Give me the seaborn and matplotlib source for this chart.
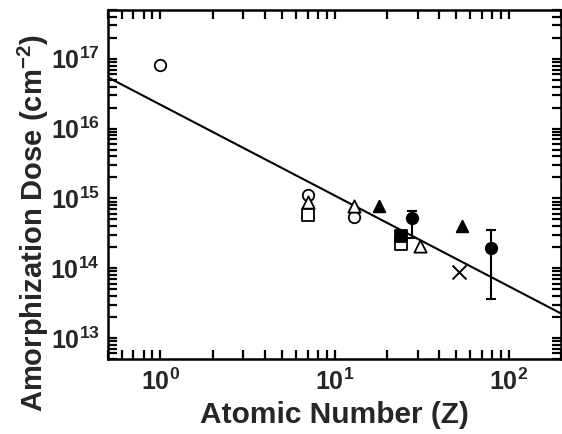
import numpy as np
import pandas as pd
import matplotlib
matplotlib.use('Agg')
import matplotlib.pyplot as plt
import seaborn as sns
from matplotlib.ticker import LogLocator, LogFormatterSciNotation, NullFormatter

# data (atomic number Z, amorphization dose in cm^-2)
open_circle_z = [1, 7, 13]
open_circle_dose = [8.1e16, 1.12e15, 5.4e14]
open_triangle_z = [7, 13, 31]
open_triangle_dose = [8.8e14, 7.7e14, 2.1e14]
open_square_z = [7, 24]
open_square_dose = [5.8e14, 2.2e14]
filled_square_z = [24]
filled_square_dose = [2.9e14]
filled_triangle_z = [18, 54]
filled_triangle_dose = [7.9e14, 4.0e14]
cross_z = [52]
cross_dose = [8.9e13]
filled_circle_z = [28, 79]
filled_circle_dose = [5.3e14, 1.95e14]
filled_circle_lo = [2.7e14, 3.6e13]
filled_circle_hi = [6.7e14, 3.5e14]

# power-law fit line: D = A * Z^b
fit_A = 2.2e16
fit_b = -1.3

sns.set_style('ticks')
plt.rcParams['font.family'] = ['Liberation Sans', 'DejaVu Sans']
plt.rcParams['font.weight'] = 'bold'
plt.rcParams['mathtext.fontset'] = 'custom'
plt.rcParams['mathtext.rm'] = 'Liberation Sans:bold'
plt.rcParams['mathtext.it'] = 'Liberation Sans:bold'
plt.rcParams['mathtext.bf'] = 'Liberation Sans:bold'
plt.rcParams['mathtext.default'] = 'bf'

fig = plt.figure(figsize=(5.62, 4.34), dpi=100)
ax = fig.add_axes([108 / 562, 1 - 359 / 434, 453 / 562, 349 / 434])

# fit line
z_fit = np.logspace(np.log10(0.5), np.log10(200), 50)
fit_df = pd.DataFrame({'Z': z_fit, 'dose': fit_A * z_fit ** fit_b})
sns.lineplot(data=fit_df, x='Z', y='dose', color='black', linewidth=1.5, ax=ax)

# error bars
yerr = [np.array(filled_circle_dose) - np.array(filled_circle_lo),
        np.array(filled_circle_hi) - np.array(filled_circle_dose)]
ax.errorbar(filled_circle_z, filled_circle_dose, yerr=yerr, fmt='none',
            ecolor='black', elinewidth=1.5, capsize=3.8, capthick=1.5, zorder=2)

groups = [
    (open_circle_z, open_circle_dose, 'o', 'white', 68),
    (open_triangle_z, open_triangle_dose, '^', 'white', 78),
    (open_square_z, open_square_dose, 's', 'white', 68),
    (filled_square_z, filled_square_dose, 's', 'black', 68),
    (filled_triangle_z, filled_triangle_dose, '^', 'black', 70),
    (filled_circle_z, filled_circle_dose, 'o', 'black', 68),
]
for zs, ds, mk, fc, size in groups:
    df = pd.DataFrame({'Z': zs, 'dose': ds})
    sns.scatterplot(data=df, x='Z', y='dose', marker=mk, s=size,
                    facecolor=fc, edgecolor='black', linewidth=1.3, ax=ax, zorder=3)

df = pd.DataFrame({'Z': cross_z, 'dose': cross_dose})
sns.scatterplot(data=df, x='Z', y='dose', marker='x', s=100, color='black',
                linewidth=1.4, ax=ax, zorder=3)

ax.set_xscale('log')
ax.set_yscale('log')
ax.set_xlim(0.5, 200)
ax.set_ylim(5e12, 5e17)

for axis in (ax.xaxis, ax.yaxis):
    axis.set_major_locator(LogLocator(base=10, numticks=20))
    axis.set_minor_locator(LogLocator(base=10, subs=np.arange(2, 10), numticks=20))
    axis.set_major_formatter(LogFormatterSciNotation())
    axis.set_minor_formatter(NullFormatter())

ax.tick_params(which='both', direction='in', top=True, right=True,
               length=6.5, width=1.6, color='black')
ax.tick_params(axis='both', which='major', labelsize=18)
ax.tick_params(axis='x', which='major', pad=7)
ax.tick_params(axis='y', which='major', pad=6)
for sp in ax.spines.values():
    sp.set_linewidth(1.8)
    sp.set_color('black')

ax.set_xlabel('Atomic Number (Z)', fontsize=21.5, fontweight='bold', labelpad=4)
ax.set_ylabel('Amorphization Dose (cm$^{-2}$)', fontsize=21, fontweight='bold')
ax.yaxis.set_label_coords(-0.125, 0.39)

fig.savefig('out.png', dpi=100)
